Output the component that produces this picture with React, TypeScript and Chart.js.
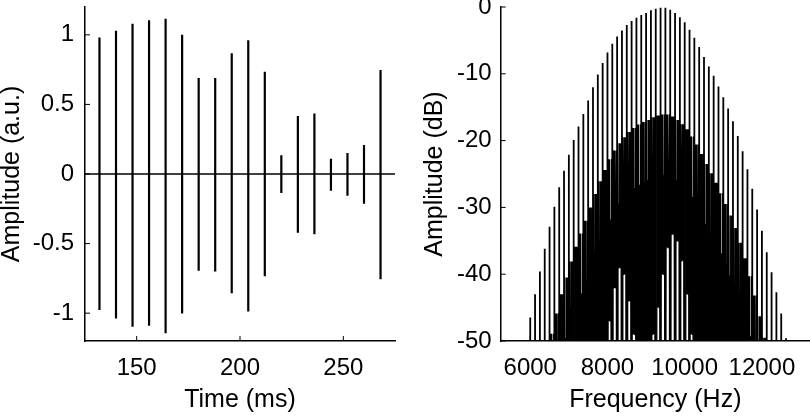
import React, { useEffect, useRef } from "react";
import { Chart, registerables } from "chart.js";

Chart.register(...registerables);

// ---------- Left panel: time signal ----------
const burstTimesMs = [132, 140, 148, 156, 164, 172, 180, 188, 196, 204, 212, 220, 228, 236, 244, 252, 260, 268];
const burstMaxAu = [0.98, 1.03, 1.08, 1.105, 1.115, 1.0, 0.69, 0.69, 0.867, 0.961, 0.735, 0.135, 0.416, 0.435, 0.11, 0.151, 0.209, 0.748];
const burstMinAu = [-0.978, -1.038, -1.098, -1.091, -1.144, -1.002, -0.695, -0.7, -0.856, -0.988, -0.735, -0.137, -0.423, -0.433, -0.12, -0.156, -0.214, -0.757];
const timeRangeMs = [125, 275];
const ampRangeAu = [-1.2, 1.2];
const timeTicks = [150, 200, 250];
const ampTicks = [-1, -0.5, 0, 0.5, 1];

// ---------- Right panel: spectrum ----------
const harmonicHz = [6000, 6125, 6250, 6375, 6500, 6625, 6750, 6875, 7000, 7125, 7250, 7375, 7500, 7625, 7750, 7875, 8000, 8125, 8250, 8375, 8500, 8625, 8750, 8875, 9000, 9125, 9250, 9375, 9500, 9625, 9750, 9875, 10000, 10125, 10250, 10375, 10500, 10625, 10750, 10875, 11000, 11125, 11250, 11375, 11500, 11625, 11750, 11875, 12000, 12125, 12250, 12375, 12500, 12625];
const harmonicDb = [-46.5, -43.0, -39.6, -36.2, -32.9, -29.9, -27.0, -24.5, -22.1, -19.9, -17.9, -16.0, -14.0, -12.0, -10.1, -8.4, -6.8, -5.5, -4.4, -3.5, -2.7, -2.1, -1.6, -1.2, -0.9, -0.5, -0.25, -0.1, -0.1, -0.4, -0.9, -1.55, -2.3, -3.4, -4.6, -6.0, -7.5, -8.9, -10.3, -11.9, -13.5, -15.2, -17.1, -19.3, -21.6, -24.3, -27.2, -30.3, -33.5, -36.7, -39.7, -42.7, -45.9, -49.6];
const sidelobeDb = [-62.5, -59, -55.6, -52.2, -48.9, -45.9, -43, -40.5, -38.1, -35.9, -33.9, -32, -30, -28, -26.1, -24.4, -22.8, -21.5, -20.4, -19.5, -18.7, -18.1, -17.6, -17.2, -16.9, -16.5, -16.25, -16.1, -16.1, -16.4, -16.9, -17.55, -18.3, -19.4, -20.6, -22, -23.5, -24.9, -26.3, -27.9, -29.5, -31.2, -33.1, -35.3, -37.6, -40.3, -43.2, -46.3, -49.5, -52.7, -55.7, -58.7, -61.9, -65.6];
const innerLobeDb = [-71.5, -68, -64.6, -61.2, -57.9, -54.9, -52, -49.5, -47.1, -44.9, -42.9, -41, -39, -37, -35.1, -33.4, -31.8, -30.5, -29.4, -28.5, -27.7, -27.1, -26.6, -26.2, -25.9, -25.5, -25.25, -25.1, -25.1, -25.4, -25.9, -26.55, -27.3, -28.4, -29.6, -31, -32.5, -33.9, -35.3, -36.9, -38.5, -40.2, -42.1, -44.3, -46.6, -49.3, -52.2, -55.3, -58.5, -61.7, -64.7, -67.7, -70.9, -74.6];
const troughDb = [-80, -80, -80, -80, -80, -80, -80, -80, -80, -80, -80, -80, -80, -80, -80, -50, -47, -42, -39, -40, -44, -49, -80, -80, -54, -49, -45, -40, -36, -34, -35, -38, -43, -49, -55, -80, -80, -80, -80, -80, -80, -80, -80, -80, -80, -80, -80, -80, -80, -80, -80, -80, -80, -80];
const nullDb = -100;
// offsets (Hz) of the lobes inside one 125 Hz harmonic period, and which level each takes
const lobeOffsetHz = [10, 22, 32, 42, 52, 62, 72, 83, 93, 103, 115];
const lobeKind = ["null", "side", "trough", "inner", "trough", "side", "trough", "inner", "trough", "side", "null"];
const freqRangeHz = [5235, 13245];
const dbRange = [-50, 0];
const freqTicks = [6000, 8000, 10000, 12000];
const dbTicks = [-50, -40, -30, -20, -10, 0];

const FONT_FAMILY = '"Liberation Sans", Arial, Helvetica, sans-serif';
const TICK_FONT = { family: FONT_FAMILY, size: 24 };
const TITLE_FONT = { family: FONT_FAMILY, size: 25, lineHeight: 1 };

const fixedTicks = (values: number[]) => (scale: any) => {
  scale.ticks = values.map((v) => ({ value: v }));
};
const fixSize = (prop: "width" | "height", size: number) => (scale: any) => {
  scale[prop] = size;
  scale.paddingTop = 0;
  scale.paddingBottom = 0;
  scale.paddingLeft = 0;
  scale.paddingRight = 0;
};

const innerTicks = {
  id: "innerTicks",
  afterDatasetsDraw(chart: any) {
    const { ctx, chartArea } = chart;
    ctx.save();
    ctx.strokeStyle = "#000";
    ctx.lineWidth = 1;
    ctx.beginPath();
    for (const s of Object.values(chart.scales) as any[]) {
      for (const t of s.ticks) {
        const p = s.getPixelForValue(t.value);
        if (s.isHorizontal()) {
          ctx.moveTo(p, chartArea.bottom);
          ctx.lineTo(p, chartArea.bottom - 5);
        } else {
          ctx.moveTo(chartArea.left, p);
          ctx.lineTo(chartArea.left + 5, p);
        }
      }
    }
    ctx.stroke();
    ctx.restore();
  },
};

function axis(
  range: number[],
  ticks: number[],
  title: string,
  horizontal: boolean,
  size: number,
  tickPad: number,
  titlePad: any
) {
  return {
    type: "linear",
    min: range[0],
    max: range[1],
    afterBuildTicks: fixedTicks(ticks),
    afterFit: fixSize(horizontal ? "height" : "width", size),
    grid: { display: false, drawTicks: false },
    border: { display: true, color: "#000", width: 1.5 },
    ticks: {
      color: "#000",
      font: TICK_FONT,
      padding: tickPad,
      maxRotation: 0,
      autoSkip: false,
      callback: (v: any) => String(v),
    },
    title: { display: true, text: title, color: "#000", font: TITLE_FONT, padding: titlePad },
  };
}

function baseOptions(padding: any, x: any, y: any) {
  return {
    responsive: false,
    animation: false,
    devicePixelRatio: 1,
    events: [],
    layout: { padding },
    plugins: { legend: { display: false }, tooltip: { enabled: false } },
    scales: { x, y },
  };
}

export default function App() {
  const leftRef = useRef<HTMLCanvasElement>(null);
  const rightRef = useRef<HTMLCanvasElement>(null);

  useEffect(() => {
    // left: bursts
    const burstPts: any[] = [];
    burstTimesMs.forEach((t, i) => {
      burstPts.push({ x: t, y: burstMinAu[i] }, { x: t, y: burstMaxAu[i] }, { x: t, y: null });
    });
    const zeroPts = [
      { x: timeRangeMs[0], y: 0 },
      { x: timeRangeMs[1], y: 0 },
    ];
    const left = new Chart(leftRef.current as HTMLCanvasElement, {
      type: "line",
      data: {
        datasets: [
          { data: zeroPts, borderColor: "#000", borderWidth: 1.5, pointRadius: 0, tension: 0 },
          { data: burstPts, borderColor: "#000", borderWidth: 2.2, pointRadius: 0, tension: 0, spanGaps: false, borderCapStyle: "butt" },
        ],
      },
      options: baseOptions(
        { top: 7, right: 10, left: 0, bottom: 0 },
        axis(timeRangeMs, timeTicks, "Time (ms)", true, 75, 13, { top: 0, bottom: 3.5 }),
        axis(ampRangeAu, ampTicks, "Amplitude (a.u.)", false, 85, 11, { top: 0, bottom: 0 })
      ) as any,
      plugins: [innerTicks],
    } as any);

    // right: spectrum
    const lobePts: any[] = [];
    harmonicHz.forEach((f, i) => {
      lobeOffsetHz.forEach((off, j) => {
        const k = lobeKind[j];
        const y =
          k === "side" ? sidelobeDb[i] : k === "inner" ? innerLobeDb[i] : k === "trough" ? troughDb[i] : nullDb;
        lobePts.push({ x: f + off, y });
      });
    });
    const harmPts: any[] = [];
    harmonicHz.forEach((f, i) => {
      harmPts.push({ x: f, y: dbRange[0] }, { x: f, y: harmonicDb[i] }, { x: f, y: null });
    });
    const right = new Chart(rightRef.current as HTMLCanvasElement, {
      type: "line",
      data: {
        datasets: [
          { data: lobePts, borderColor: "#000", borderWidth: 1.35, pointRadius: 0, tension: 0 },
          { data: harmPts, borderColor: "#000", borderWidth: 1.8, pointRadius: 0, tension: 0, spanGaps: false, borderCapStyle: "butt" },
        ],
      },
      options: baseOptions(
        { top: 7, right: 0, left: 0, bottom: 0 },
        axis(freqRangeHz, freqTicks, "Frequency (Hz)", true, 75, 13, { top: 0, bottom: 3.5 }),
        axis(dbRange, dbTicks, "Amplitude (dB)", false, 95.7, 9, { top: 17.5, bottom: 0 })
      ) as any,
      plugins: [innerTicks],
    } as any);

    return () => {
      left.destroy();
      right.destroy();
    };
  }, []);

  return (
    <div style={{ position: "absolute", left: 0, top: 0, width: 810, height: 416, background: "#fff", overflow: "hidden" }}>
      <canvas ref={leftRef} width={405} height={416} style={{ position: "absolute", left: 0, top: 0, width: 405, height: 416 }} />
      <canvas ref={rightRef} width={405} height={416} style={{ position: "absolute", left: 405, top: 0, width: 405, height: 416 }} />
    </div>
  );
}
